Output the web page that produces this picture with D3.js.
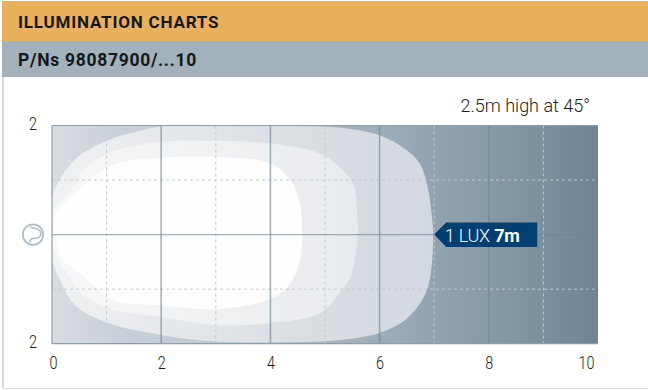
<!DOCTYPE html>
<html><head><meta charset="utf-8">
<script src="https://cdn.jsdelivr.net/npm/d3@7"></script>
<style>
html,body{margin:0;padding:0;background:#fff}
svg{display:block}
text{font-family:Roboto,"Open Sans",sans-serif}
</style></head><body><div id="c"></div>
<script>
const title = "ILLUMINATION CHARTS";
const subtitle = "P/Ns 98087900/...10";
const note = "2.5m high at 45°";
const xTicks = [0,2,4,6,8,10];
const xMinor = [1,3,5,7,9];
const yTicks = [2,-2];
const yMinor = [1,-1];
const luxLabel = "1 LUX ";
const luxDistance = 7;
// iso-lux contours, metres [distance, lateral]
const contourOuter = [[0,.69],[.45,1.4],[1.03,1.73],[1.48,1.87],[2,1.98],[3,2],[4.9,1.98],[5.5,1.93],[6,1.82],[6.42,1.6],[6.73,1.31],[6.88,.87],[6.97,.21],[6.98,0],[6.96,-.5],[6.88,-.98],[6.7,-1.32],[6.45,-1.58],[6.2,-1.72],[5.9,-1.83],[5.4,-1.92],[4.9,-1.96],[3,-1.96],[2,-1.84],[1.03,-1.62],[.45,-1.32],[.15,-.84],[0,-.43]];
const contourMiddle = [[.02,.42],[.36,.82],[.6,1.2],[1.03,1.49],[2,1.7],[3,1.72],[4,1.67],[4.9,1.49],[5.27,1.23],[5.51,.94],[5.6,.21],[5.6,0],[5.58,-.23],[5.49,-.71],[5.27,-1.07],[4.9,-1.44],[4,-1.62],[3,-1.66],[2,-1.51],[1.03,-1.35],[.46,-1.02],[.37,-.84],[.15,-.52],[.02,-.23]];
const contourInner = [[.05,.32],[.64,.94],[1.12,1.28],[2,1.41],[3.3,1.41],[4,1.31],[4.36,1],[4.54,.58],[4.58,0],[4.58,-.23],[4.49,-.65],[4.3,-.98],[3.94,-1.2],[3,-1.37],[2,-1.3],[1.12,-1.2],[.51,-.71],[.2,-.47],[.09,-.16]];

const W=648,H=390;
const x=d3.scaleLinear().domain([0,10]).range([52,598]);
const y=d3.scaleLinear().domain([-2,2]).range([343.7,125.5]);
const svg=d3.select("#c").append("svg").attr("width",W).attr("height",H);
const defs=svg.append("defs");
function grad(id,stops){
  const g=defs.append("linearGradient").attr("id",id).attr("x1",0).attr("x2",1).attr("y1",0).attr("y2",0)
    .attr("gradientUnits","objectBoundingBox");
  stops.forEach(s=>g.append("stop").attr("offset",s[0]).attr("stop-color",s[1]));
}
grad("bg",[[0,"#d8dde2"],[.12,"#c9d0d7"],[.3,"#c0c9d1"],[.6,"#9eadb9"],[.8,"#879aa7"],[1,"#6f8494"]]);
grad("o",[[0,"#f0f2f3"],[.4,"#e2e5e9"],[.7,"#d8dde2"],[1,"#d3d9e0"]]);
grad("m",[[0,"#f8f8f9"],[.4,"#f1f2f4"],[1,"#e8ebee"]]);
defs.append("clipPath").attr("id","plot").append("rect")
  .attr("x",x(0)).attr("y",y(2)).attr("width",x(10)-x(0)).attr("height",y(-2)-y(2));

// frame
svg.append("rect").attr("x",2).attr("y",1).attr("width",646).attr("height",40).attr("fill","#e9b05d");
svg.append("rect").attr("x",2).attr("y",41).attr("width",646).attr("height",36).attr("fill","#a3b1ba");
svg.append("line").attr("x1",3).attr("x2",3).attr("y1",77).attr("y2",388).attr("stroke","#a9b6c0").attr("stroke-width",1);
svg.append("line").attr("x1",3).attr("x2",648).attr("y1",388.5).attr("y2",388.5).attr("stroke","#dde1e4").attr("stroke-width",1);
svg.append("text").attr("x",18).attr("y",28).attr("font-size",17).attr("font-weight",700).attr("letter-spacing",.8).attr("fill","#15181a").text(title);
svg.append("text").attr("x",18).attr("y",66).attr("font-size",17.5).attr("font-weight",700).attr("letter-spacing",.7).attr("fill","#15181a").text(subtitle);
svg.append("text").attr("x",590).attr("y",112).attr("text-anchor","end").attr("font-size",18).attr("font-weight",300).attr("fill","#1d1d1d").text(note);

// plot background & contours
const p=svg.append("g").attr("clip-path","url(#plot)");
p.append("rect").attr("x",x(0)).attr("y",y(2)).attr("width",x(10)-x(0)).attr("height",y(-2)-y(2)).attr("fill","url(#bg)");
const shape=d3.line().x(d=>x(d[0])).y(d=>y(d[1])).curve(d3.curveCatmullRomClosed.alpha(.5));
[[contourOuter,"url(#o)"],[contourMiddle,"url(#m)"],[contourInner,"#fefefe"]].forEach(([d,f])=>{
  p.append("path").datum(d).attr("d",shape).attr("fill",f);
});
// grid
const dash=svg.append("g").attr("stroke","#c3c9ce").attr("stroke-width",1).attr("stroke-dasharray","3 3");
dash.selectAll("line.v").data(xMinor).join("line").attr("x1",x).attr("x2",x).attr("y1",y(2)).attr("y2",y(-2));
dash.selectAll("line.h").data(yMinor).join("line").attr("x1",x(0)).attr("x2",x(10)).attr("y1",y).attr("y2",y);
const solid=svg.append("g").attr("stroke","#6d8394").attr("stroke-opacity",.62).attr("stroke-width",1.6);
solid.selectAll("line.v").data(xTicks.slice(1,-1)).join("line").attr("x1",x).attr("x2",x).attr("y1",y(2)).attr("y2",y(-2));
solid.append("line").attr("x1",x(0)).attr("x2",x(10)).attr("y1",y(0)).attr("y2",y(0)).attr("stroke-width",1.3);
const border=svg.append("g").attr("stroke","#8e9fac").attr("stroke-width",1.2);
border.append("line").attr("x1",x(0)).attr("x2",x(10)).attr("y1",y(2)).attr("y2",y(2));
border.append("line").attr("x1",x(0)).attr("x2",x(10)).attr("y1",y(-2)).attr("y2",y(-2));
border.append("line").attr("x1",x(0)).attr("x2",x(0)).attr("y1",y(2)).attr("y2",y(-2));

// axes
const ax=svg.append("g").attr("transform",`translate(0,${y(-2)})`)
  .call(d3.axisBottom(x).tickValues(xTicks).tickSize(0).tickPadding(0).tickFormat(d3.format("d")));
ax.select(".domain").remove();
ax.selectAll("text").attr("y",25).attr("dy",0).attr("font-size",19).attr("font-weight",300).attr("fill","#1d1d1d").style("font-family","Roboto")
  .attr("transform",d=>`translate(${d===10?-12:d===0?1:0},0) scale(.76,1)`);
const ay=svg.append("g").attr("transform",`translate(37,0)`)
  .call(d3.axisLeft(y).tickValues(yTicks).tickSize(0).tickPadding(0).tickFormat(d=>Math.abs(d)));
ay.select(".domain").remove();
ay.selectAll("text").attr("x",0).attr("dy","0.2em").attr("font-size",19).attr("font-weight",300).attr("fill","#1d1d1d").style("font-family","Roboto")
  .attr("transform","scale(.76,1)");

// lamp icon
const ic=svg.append("g").attr("transform",`translate(33,${y(0)})`).attr("fill","none").attr("stroke","#b0bcc6").attr("stroke-width",1.8);
ic.append("circle").attr("r",10.2);
ic.append("path").attr("d","M-3-7C4-7 8-4 8-1 8 2 5 4 0 4-2 4-3 6-3 8").attr("stroke-width",1.5);

// 1 lux flag
const fx=x(luxDistance), fy=y(0);
svg.append("path").attr("d",`M${fx} ${fy}L${fx+12} ${fy-12.2}H${fx+103}V${fy+12.5}H${fx+12}Z`).attr("fill","#003f72");
const t=svg.append("text").attr("x",fx+10.5).attr("y",fy+7).attr("font-size",18).attr("letter-spacing",-.2).attr("fill","#fff");
t.append("tspan").attr("font-weight",300).text(luxLabel);
t.append("tspan").attr("font-weight",700).text(luxDistance+"m");
</script></body></html>
